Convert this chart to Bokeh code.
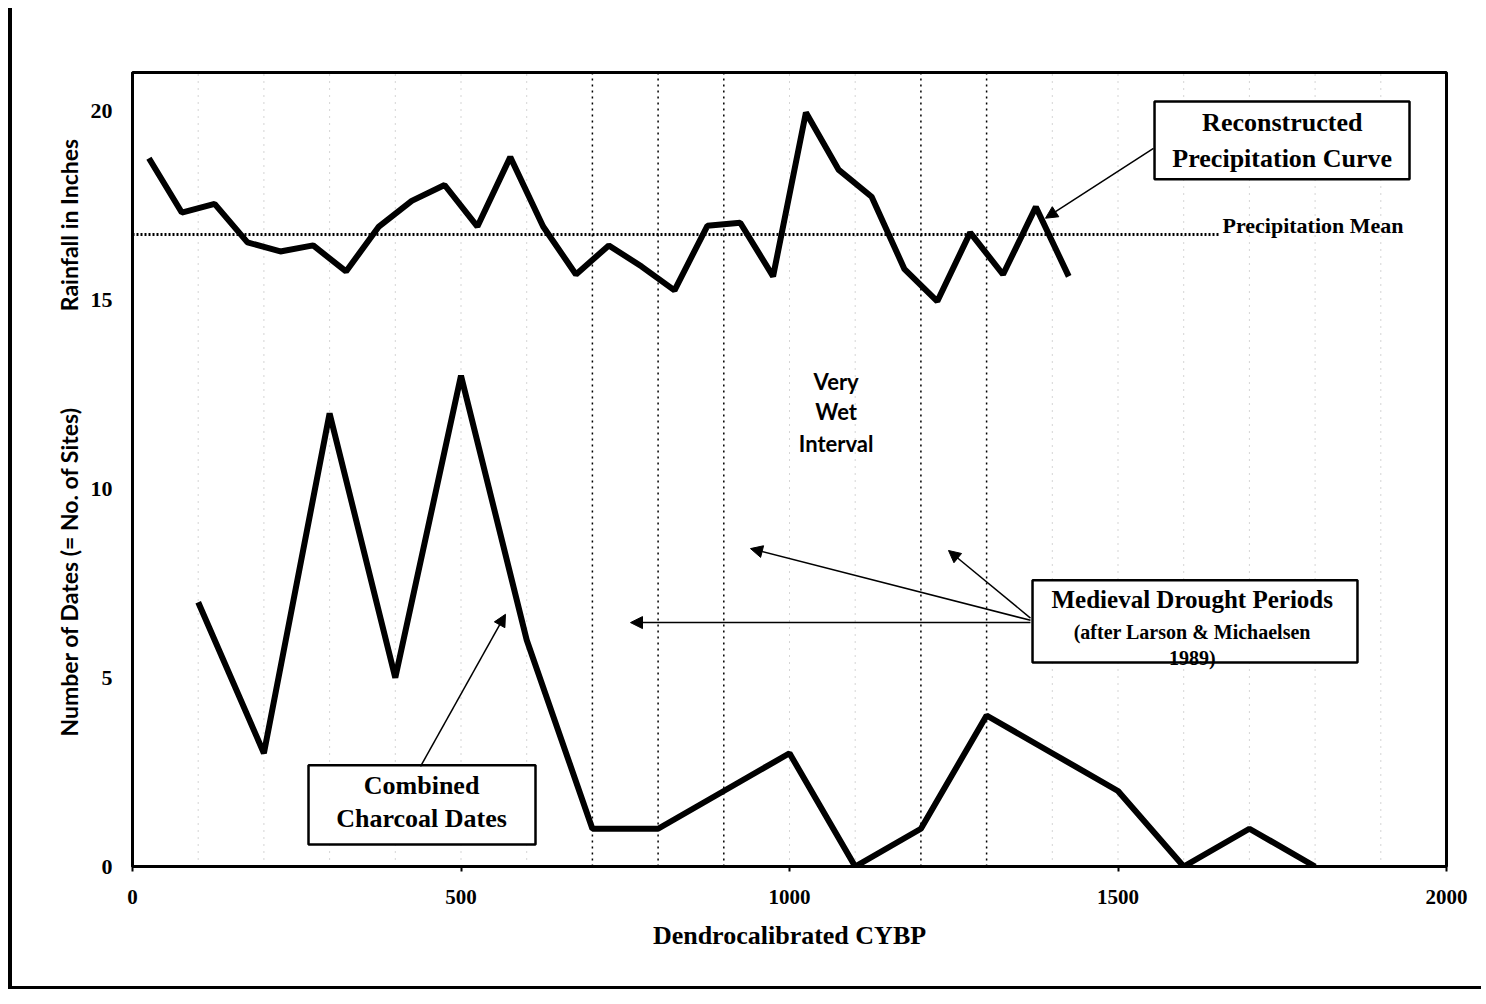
import math
from bokeh.plotting import figure
from bokeh.layouts import row
from bokeh.models import Range1d, FixedTicker, Label, Arrow, NormalHead
from bokeh.core.properties import value
from bokeh.embed import file_html
from bokeh.resources import INLINE

# ---------------- data ----------------
precip_x = [25, 75, 125, 175, 225, 275, 325, 375, 425, 475, 525, 575, 625, 675, 725,
            775, 825, 875, 925, 975, 1025, 1075, 1125, 1175, 1225, 1275, 1325, 1375, 1425]
precip_in = [18.76, 17.32, 17.55, 16.53, 16.29, 16.45, 15.76, 16.95, 17.63, 18.05, 16.95,
             18.79, 16.95, 15.68, 16.45, 15.89, 15.26, 16.97, 17.05, 15.63, 19.97, 18.45,
             17.74, 15.82, 14.97, 16.79, 15.68, 17.47, 15.63]
precip_mean = 16.74

charcoal_x = [100, 200, 300, 400, 500, 600, 700, 800, 900, 1000, 1100, 1200, 1300, 1400,
              1500, 1600, 1700, 1800]
charcoal_n = [7, 3, 12, 5, 13, 6, 1, 1, 2, 3, 0, 1, 4, 3, 2, 0, 1, 0]

x_ticks = [0, 500, 1000, 1500, 2000]
y_ticks = [0, 5, 10, 15, 20]
drought_bounds = [700, 800, 900, 1200, 1300]
faint_grid = [100, 200, 300, 400, 500, 600, 1000, 1100, 1400, 1500, 1600, 1700, 1800, 1900]

y_titles = ["Rainfall in Inches", "Number of Dates (= No. of Sites)"]
y_title_pos = [16.99, 7.81]
x_title = "Dendrocalibrated CYBP"

X_MAX = 2000
Y_MAX = 21.03
MEAN_END = 1653

SERIF = "Liberation Serif"
SANS = "Lato"

H = 978
WL = 75
W2 = 1394
MB_TOP = 64
MB_BOTTOM = 120

yr = Range1d(0, Y_MAX)

# ---------------- main figure ----------------
p = figure(width=W2, height=H,
           x_range=Range1d(0, X_MAX), y_range=yr,
           output_backend="svg", toolbar_location=None,
           min_border_left=45, min_border_right=35,
           min_border_top=MB_TOP, min_border_bottom=MB_BOTTOM)
p.background_fill_color = "white"
p.border_fill_color = "white"
p.xgrid.visible = False
p.ygrid.visible = False
p.outline_line_color = "black"
p.outline_line_width = 3

p.xaxis.ticker = FixedTicker(ticks=x_ticks, minor_ticks=[])
p.yaxis.ticker = FixedTicker(ticks=y_ticks, minor_ticks=[])
for ax in (p.xaxis, p.yaxis):
    ax.axis_line_width = 3
    ax.axis_line_color = "black"
    ax.minor_tick_line_color = None
    ax.major_label_text_font = SERIF
    ax.major_label_text_font_style = "bold"
    ax.major_label_text_color = "black"
p.xaxis.major_tick_out = 5
p.xaxis.major_tick_in = 0
p.xaxis.major_tick_line_width = 2
p.xaxis.major_label_text_font_size = "21px"
p.xaxis.major_label_standoff = 18
p.xaxis.axis_label = x_title
p.xaxis.axis_label_text_font = SERIF
p.xaxis.axis_label_text_font_style = "bold"
p.xaxis.axis_label_text_font_size = "26px"
p.xaxis.axis_label_text_color = "black"
p.xaxis.axis_label_standoff = 14
p.yaxis.major_tick_line_color = None
p.yaxis.major_label_text_font_size = "22px"
p.yaxis.major_label_standoff = 14

# ---------------- grid-like dotted verticals ----------------
p.segment(x0=faint_grid, y0=[0] * len(faint_grid), x1=faint_grid, y1=[Y_MAX] * len(faint_grid),
          line_color="#aaaaaa", line_width=1, line_dash="1 6")
p.segment(x0=drought_bounds, y0=[0] * len(drought_bounds), x1=drought_bounds,
          y1=[Y_MAX] * len(drought_bounds),
          line_color="black", line_width=1.5, line_dash="2 4")

# mean line
p.segment(x0=[0], y0=[precip_mean], x1=[MEAN_END], y1=[precip_mean],
          line_color="black", line_width=3, line_dash="2 2")

# ---------------- curves ----------------
p.line(precip_x, precip_in, line_color="black", line_width=6)
p.line(charcoal_x, charcoal_n, line_color="black", line_width=6)

# ---------------- callout boxes ----------------
box_left = [1555.6, 1369.9, 267.9]
box_right = [1943.7, 1864.5, 613.4]
box_top = [20.26, 7.58, 2.68]
box_bottom = [18.2, 5.4, 0.58]
p.quad(left=box_left, right=box_right, top=box_top, bottom=box_bottom,
       fill_color="white", line_color="black", line_width=2.5)


def lab(x, y, text, size, font=SERIF, align="center", baseline="alphabetic"):
    p.add_layout(Label(x=x, y=y, text=text, text_font=font, text_font_style="bold",
                       text_font_size=size, text_align=align, text_baseline=baseline,
                       text_color="black"))


lab(1750, 19.71, "Reconstructed", "26px")
lab(1750, 18.75, "Precipitation Curve", "26px")
lab(1659, 16.98, "Precipitation Mean", "22px", align="left", baseline="middle")

lab(1613, 7.07, "Medieval Drought Periods", "25px")
lab(1613, 6.2, "(after Larson & Michaelsen", "20px")
lab(1613, 5.51, "1989)", "20px")

lab(440, 2.15, "Combined", "26px")
lab(440, 1.27, "Charcoal Dates", "26px")

lab(1071, 12.85, "Very", "22px", font=SANS, baseline="middle")
lab(1071, 12.05, "Wet", "22px", font=SANS, baseline="middle")
lab(1071, 11.2, "Interval", "22px", font=SANS, baseline="middle")

# ---------------- arrows ----------------
arrows = [
    (1554, 19.02, 1389.6, 17.17),
    (1366.8, 6.46, 758, 6.46),
    (1366.8, 6.52, 940.6, 8.42),
    (1366.8, 6.58, 1242, 8.37),
    (438.4, 2.65, 567.7, 6.68),
]
for xs, ys, xe, ye in arrows:
    p.add_layout(Arrow(end=NormalHead(size=12, fill_color="black", line_color="black", line_width=1),
                       x_start=xs, y_start=ys, x_end=xe, y_end=ye,
                       line_color="black", line_width=1.5))

# ---------------- left strip with the two y titles ----------------
left = figure(width=WL, height=H, x_range=Range1d(0, WL), y_range=yr,
              output_backend="svg", toolbar_location=None,
              x_axis_type=None, y_axis_type=None,
              min_border_left=0, min_border_right=0,
              min_border_top=MB_TOP, min_border_bottom=MB_BOTTOM)
left.outline_line_color = None
left.background_fill_color = "white"
left.border_fill_color = "white"
left.text(x=[56, 56], y=y_title_pos, text=y_titles, angle=math.pi / 2,
          text_font=value(SANS), text_font_style="bold", text_font_size="23px",
          text_align="center", text_baseline="middle", text_color="black")

lay = row(left, p, spacing=0)
lay.styles = {"border-left": "4px solid black", "border-bottom": "3px solid black",
              "margin": "8px"}

open("out.html", "w").write(file_html(lay, INLINE))
